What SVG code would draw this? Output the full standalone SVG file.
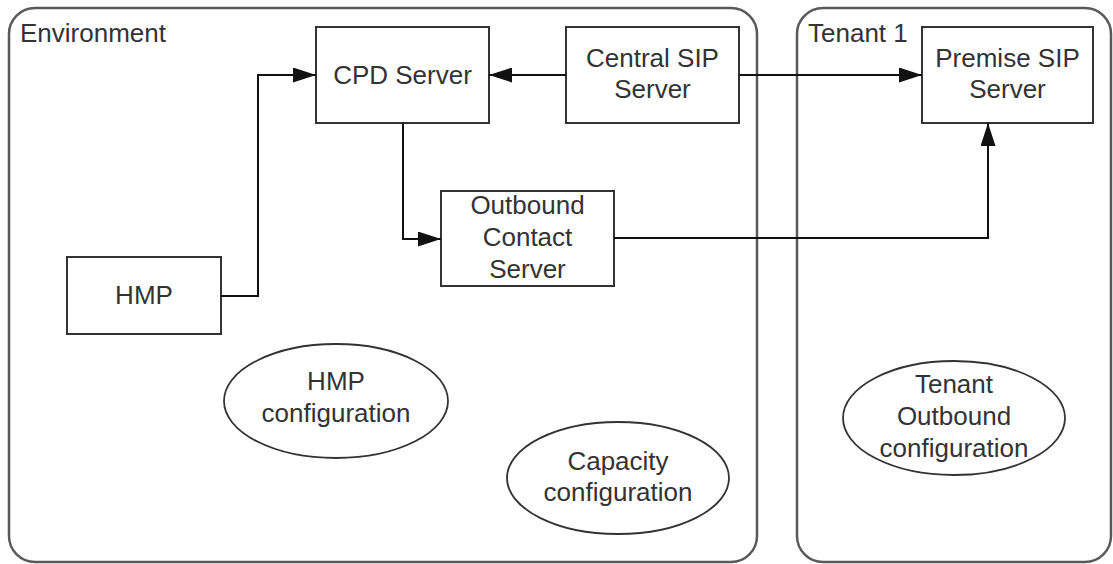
<svg xmlns="http://www.w3.org/2000/svg" width="1113" height="564" viewBox="0 0 1113 564">
<defs>
<style>
.container{fill:#fff;stroke:#5a5a5a;stroke-width:2.5}
.box{fill:#fff;stroke:#333;stroke-width:2}
.ell{fill:#fff;stroke:#333;stroke-width:1.8}
text{font-family:"Liberation Sans",Arial,sans-serif;font-size:26px;fill:#333}
.c{text-anchor:middle}
.conn{fill:none;stroke:#111;stroke-width:2}
</style>
<marker id="arr" markerWidth="23" markerHeight="15" refX="23" refY="7.5" orient="auto" markerUnits="userSpaceOnUse">
<path d="M0,0 L23,7.5 L0,15 z" fill="#111"/>
</marker>
</defs>
<rect width="1113" height="564" fill="#fff"/>
<g id="environment">
<rect class="container" x="9" y="8" width="748" height="554" rx="26" ry="26"/>
<text x="20" y="42">Environment</text>
</g>
<g id="tenant1">
<rect class="container" x="797" y="8" width="314" height="554" rx="26" ry="26"/>
<text x="808" y="42">Tenant 1</text>
</g>
<g id="cpd-server">
<rect class="box" x="316" y="27" width="173" height="96"/>
<text class="c" x="402.5" y="84">CPD Server</text>
</g>
<g id="central-sip-server">
<rect class="box" x="566" y="27" width="173" height="96"/>
<text class="c" x="652.5" y="67">Central SIP</text>
<text class="c" x="652.5" y="98">Server</text>
</g>
<g id="premise-sip-server">
<rect class="box" x="922" y="27" width="171" height="96"/>
<text class="c" x="1007.5" y="67">Premise SIP</text>
<text class="c" x="1007.5" y="98">Server</text>
</g>
<g id="hmp">
<rect class="box" x="67" y="257" width="154" height="77"/>
<text class="c" x="144" y="304">HMP</text>
</g>
<g id="outbound-contact-server">
<rect class="box" x="441" y="191" width="173" height="95"/>
<text class="c" x="527.5" y="214">Outbound</text>
<text class="c" x="527.5" y="246">Contact</text>
<text class="c" x="527.5" y="278">Server</text>
</g>
<g id="hmp-configuration">
<ellipse class="ell" cx="336" cy="401" rx="112" ry="57"/>
<text class="c" x="336" y="390">HMP</text>
<text class="c" x="336" y="422">configuration</text>
</g>
<g id="capacity-configuration">
<ellipse class="ell" cx="618" cy="478" rx="111" ry="56"/>
<text class="c" x="618" y="470">Capacity</text>
<text class="c" x="618" y="501">configuration</text>
</g>
<g id="tenant-outbound-configuration">
<ellipse class="ell" cx="954" cy="418" rx="111" ry="57"/>
<text class="c" x="954" y="393">Tenant</text>
<text class="c" x="954" y="425">Outbound</text>
<text class="c" x="954" y="457">configuration</text>
</g>
<g id="connectors">
<polyline class="conn" points="221,296 258,296 258,75 316,75" marker-end="url(#arr)"/>
<line class="conn" x1="566" y1="75" x2="489" y2="75" marker-end="url(#arr)"/>
<line class="conn" x1="739" y1="75" x2="922" y2="75" marker-end="url(#arr)"/>
<polyline class="conn" points="403,123 403,239 441,239" marker-end="url(#arr)"/>
<polyline class="conn" points="614,238 988,238 988,123" marker-end="url(#arr)"/>
</g>
</svg>
